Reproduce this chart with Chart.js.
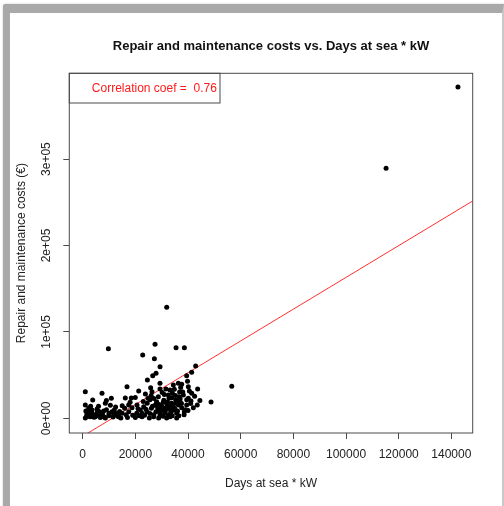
<!DOCTYPE html>
<html>
<head>
<meta charset="utf-8">
<script src="https://cdn.jsdelivr.net/npm/chart.js@4.4.1/dist/chart.umd.min.js"></script>
<style>
  html, body { margin: 0; padding: 0; background: #fff; }
  #frame {
    position: absolute; left: 3px; top: 4px; width: 492px; height: 520px;
    border-top: 9px solid #a9a9a9; border-left: 7px solid #a9a9a9; border-right: 2px solid #c8c8c8;
    border-top-left-radius: 3px; background: #fff;
    box-shadow: 0 0 2px rgba(0,0,0,0.25);
  }
  #wrap { position: absolute; left: 0; top: 0; width: 504px; height: 506px; }
</style>
</head>
<body>
<div id="frame"></div>
<div id="wrap"><canvas id="c" width="504" height="506"></canvas></div>
<script>
// ---- data ----
const daysKW = [
  142500, 115200, 31900, 9750, 27470, 35450, 38610, 22790, 27220, 29370,
  42900, 27850, 26590, 24560, 41380, 39480, 29350, 56600, 48740, 43650,
  40110, 37580, 36310, 34410, 33150, 29350, 32510, 34050, 36560, 35300,
  36950, 33780, 38210, 40110, 41380, 41120, 42010, 37580, 39480, 34410,
  32510, 30610, 28720, 28080, 29980, 28460, 31250, 29350, 33150, 35680,
  31880, 35680, 27830, 38590, 34410, 36310, 32770, 31000, 33780, 990,
  7330, 3800, 10870, 16180, 18450, 19970, 21260, 16820, 26310, 24790,
  8590, 990, 2270, 3530, 5430, 1630, 2900, 1000, 4800, 6700,
  7960, 9860, 11130, 12400, 13660, 14930, 15940, 17460, 18730, 20630,
  21890, 23160, 24420, 26070, 27590, 28850, 26950, 25310, 22520, 19990,
  28850, 8600, 6700, 1500, 2500, 4000, 5500, 3000, 6000, 7500,
  9000, 10000, 12000, 13000, 14000, 16500, 17500, 19000, 20500, 21000,
  22500, 23500, 24000, 25500, 26500, 27000, 28000, 29500, 30000, 30500,
  31500, 32000, 32500, 33000, 33500, 34000, 35000, 35500, 36000, 36500,
  37000, 37500, 38000, 38500, 39000, 39500, 40000, 40500, 41000, 42500,
  43500, 44500, 23000, 24500, 25500, 26000, 27000, 18000, 15000, 12500,
  10500, 9000, 11500, 14500, 17000, 21500, 23800, 25800, 30200, 31600,
  34800, 37200, 39800, 30800, 32200, 29000, 31000, 33600, 35200, 36800,
  1200, 2000, 3400, 4300, 5200, 6200, 7000, 8200, 11800, 13400
];
const repairCosts = [
  383500, 289500, 128500, 80600, 85650, 81800, 81800, 73300, 69000, 59800,
  60500, 52100, 49400, 44400, 53200, 49400, 40500, 37000, 19000, 33900,
  36600, 39300, 40500, 38500, 32750, 33900, 27000, 28900, 25000, 21200,
  19250, 17300, 27000, 23100, 28900, 20000, 12300, 12300, 15400, 9600,
  12300, 18500, 25000, 19250, 9600, 12300, 5750, 3800, 1900, 5750,
  500, 500, 7700, 7700, 13500, 15400, 23100, 27700, 23900, 30800,
  28900, 21200, 23100, 23500, 23500, 24000, 31600, 36600, 30800, 23100,
  17400, 15400, 11500, 9600, 10800, 5750, 1900, 500, 1900, 3800,
  8450, 3050, 7700, 3800, 1900, 5750, 11500, 15400, 12300, 15400,
  9600, 13500, 7700, 11500, 15400, 9600, 1900, 500, 1900, 800,
  500, 500, 1000, 3000, 7000, 4500, 6500, 14000, 14000, 5000,
  10000, 6000, 9500, 5500, 8000, 4000, 7500, 3500, 6000, 11000,
  6000, 3500, 10500, 5500, 14000, 4000, 17500, 6500, 14000, 2500,
  9500, 16000, 4000, 10500, 7000, 3000, 11000, 17500, 8500, 3000,
  22500, 17000, 30500, 4000, 10000, 21500, 9000, 31500, 17000, 25500,
  15500, 20500, 19500, 17500, 21500, 26500, 23000, 18500, 14500, 13000,
  15000, 20500, 1500, 500, 1000, 3000, 28000, 35500, 30000, 34000,
  33500, 35800, 43000, 21000, 19000, 16000, 11500, 14500, 26500, 30500,
  8500, 2500, 6000, 1200, 3000, 8000, 6500, 1500, 4500, 2500
];
const xTickValues = [0, 20000, 40000, 60000, 80000, 100000, 120000, 140000];
const yTickValues = [0, 100000, 200000, 300000];
const yTickLabels = ['0e+00', '1e+05', '2e+05', '3e+05'];
const xLimits = [-5090, 148100];
const yLimits = [-17000, 399300];
const fitIntercept = -20700;
const fitSlope = 1.838;
const corrCoef = '0.76';
const chartTitle = 'Repair and maintenance costs vs. Days at sea * kW';
const xTitle = 'Days at sea * kW';
const yTitle = 'Repair and maintenance costs (\u20AC)';

const FONT = "'Liberation Sans', Arial, Helvetica, sans-serif";
const points = daysKW.map((x, i) => ({ x: x, y: repairCosts[i] }));
const fitLine = xLimits.map(x => ({ x: x, y: fitIntercept + fitSlope * x }));

const decor = {
  id: 'decor',
  afterDraw(chart) {
    const ctx = chart.ctx, a = chart.chartArea;
    ctx.save();
    // plot box
    ctx.strokeStyle = '#4a4a4a';
    ctx.lineWidth = 1;
    ctx.strokeRect(a.left, a.top, a.right - a.left, a.bottom - a.top);
    // title
    ctx.fillStyle = '#111';
    ctx.font = "bold 13px " + FONT;
    ctx.textAlign = 'center';
    ctx.textBaseline = 'middle';
    ctx.fillText(chartTitle, (a.left + a.right) / 2, 46);
    // y tick labels (rotated, as in R)
    const ys = chart.scales.y;
    ctx.font = "12px " + FONT;
    ctx.fillStyle = '#222';
    yTickValues.forEach((v, i) => {
      const py = ys.getPixelForValue(v);
      ctx.save();
      ctx.translate(a.left - 22.5, py);
      ctx.rotate(-Math.PI / 2);
      ctx.fillText(yTickLabels[i], 0, 0);
      ctx.restore();
    });
    // legend box
    ctx.strokeStyle = '#4a4a4a';
    ctx.strokeRect(a.left, a.top, 150.7, 29.7);
    ctx.fillStyle = '#ff1a1a';
    ctx.textAlign = 'left';
    ctx.fillText('Correlation coef =  ' + corrCoef, a.left + 22.5, a.top + 15);
    ctx.restore();
  }
};

new Chart(document.getElementById('c'), {
  type: 'scatter',
  data: {
    datasets: [
      {
        data: points,
        backgroundColor: '#000',
        borderWidth: 0,
        pointRadius: 2.5,
        pointHoverRadius: 2.5
      },
      {
        type: 'line',
        data: fitLine,
        borderColor: '#ff3030',
        borderWidth: 1,
        pointRadius: 0,
        fill: false,
        tension: 0
      }
    ]
  },
  options: {
    responsive: false,
    animation: false,
    events: [],
    layout: { padding: { top: 73.3, right: 31.3, left: 0, bottom: 0 } },
    plugins: { legend: { display: false }, tooltip: { enabled: false }, title: { display: false } },
    scales: {
      x: {
        type: 'linear',
        min: xLimits[0], max: xLimits[1],
        afterBuildTicks: s => { s.ticks = xTickValues.map(v => ({ value: v })); },
        afterFit: s => { s.height = 73; },
        border: { display: false },
        grid: { drawOnChartArea: false, drawTicks: true, tickLength: 6, color: '#4a4a4a' },
        ticks: {
          font: { family: FONT, size: 12 }, color: '#222', padding: 8,
          maxRotation: 0, autoSkip: false,
          callback: v => String(v)
        },
        title: { display: true, text: xTitle, font: { family: FONT, size: 12 }, color: '#222', padding: { top: 0, bottom: 14.8 } }
      },
      y: {
        type: 'linear',
        min: yLimits[0], max: yLimits[1],
        afterBuildTicks: s => { s.ticks = yTickValues.map(v => ({ value: v })); },
        afterFit: s => { s.width = 69.3; },
        border: { display: false },
        grid: { drawOnChartArea: false, drawTicks: true, tickLength: 6, color: '#4a4a4a' },
        ticks: { display: false },
        title: { display: true, text: yTitle, font: { family: FONT, size: 12 }, color: '#222', padding: { top: 14.8, bottom: 0 } }
      }
    }
  },
  plugins: [decor]
});
</script>
</body>
</html>
